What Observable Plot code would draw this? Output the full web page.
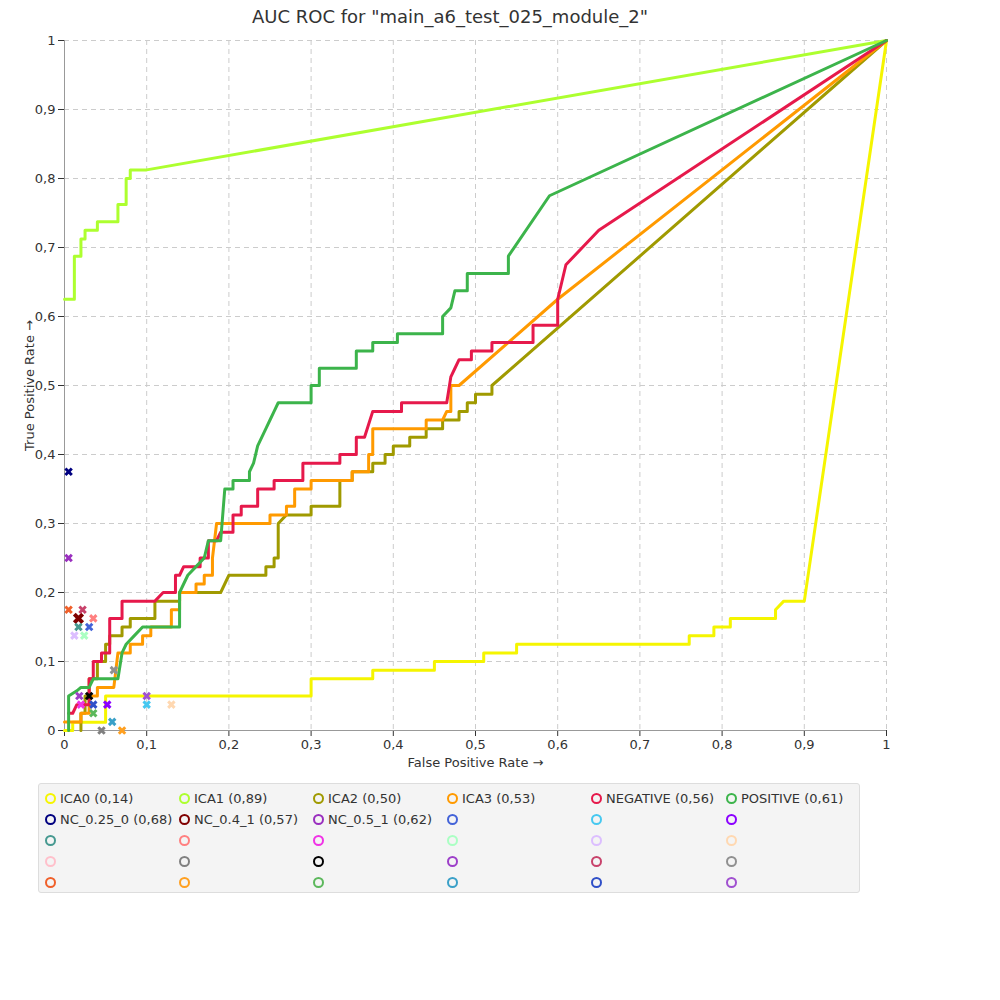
<!DOCTYPE html>
<html><head><meta charset="utf-8">
<script src="https://cdn.jsdelivr.net/npm/d3@7"></script>
<script src="https://cdn.jsdelivr.net/npm/@observablehq/plot@0.6"></script>
<style>
body{margin:0;background:#fff;font-family:"DejaVu Sans",sans-serif;}
#wrap{position:relative;width:1000px;height:1000px;}
#title{position:absolute;top:6px;left:0;width:900px;text-align:center;font-size:18px;color:#333;}
#chart{position:absolute;top:0;left:0;}
#legend{position:absolute;left:38px;top:783px;width:822px;height:110px;background:#f4f4f4;border:1px solid #ddd;border-radius:3px;box-sizing:border-box;padding:4px 0 0 6px;display:grid;grid-template-columns:134px 134px 134px 144px 135px 130px;grid-auto-rows:21px;font-size:13px;color:#333;}
.it{display:flex;align-items:center;white-space:nowrap;}
.dot{width:7px;height:7px;border-radius:50%;border:2px solid;margin-right:4px;}
</style></head>
<body><div id="wrap"><div id="chart"></div><div id="title">AUC ROC for "main_a6_test_025_module_2"</div><div id="legend"></div></div>
<script>
// series curves [fpr, tpr]
const ica0 = [[0,0],[0.01,0],[0.01,0.012],[0.05,0.012],[0.05,0.05],[0.3,0.05],[0.3,0.075],[0.375,0.075],[0.375,0.0875],[0.45,0.0875],[0.45,0.1],[0.51,0.1],[0.51,0.1125],[0.55,0.1125],[0.55,0.125],[0.76,0.125],[0.76,0.1375],[0.79,0.1375],[0.79,0.15],[0.81,0.15],[0.81,0.1625],[0.865,0.1625],[0.865,0.175],[0.875,0.1875],[0.9,0.1875],[1,1]];
const ica1 = [[0,0.625],[0.012,0.625],[0.012,0.6875],[0.02,0.6875],[0.02,0.7125],[0.025,0.7125],[0.025,0.725],[0.04,0.725],[0.04,0.7375],[0.065,0.7375],[0.065,0.7625],[0.075,0.7625],[0.075,0.8],[0.08,0.8],[0.08,0.8125],[0.1,0.8125],[1,1]];
const ica2 = [[0.02,0],[0.02,0.025],[0.025,0.025],[0.025,0.05],[0.03,0.05],[0.03,0.075],[0.04,0.075],[0.04,0.1],[0.05,0.1],[0.05,0.125],[0.055,0.125],[0.055,0.1375],[0.07,0.1375],[0.07,0.15],[0.08,0.15],[0.08,0.1625],[0.11,0.1625],[0.11,0.1875],[0.14,0.1875],[0.14,0.2],[0.19,0.2],[0.2,0.225],[0.245,0.225],[0.245,0.2375],[0.255,0.2375],[0.255,0.25],[0.26,0.25],[0.26,0.3],[0.27,0.3125],[0.3,0.3125],[0.3,0.325],[0.335,0.325],[0.335,0.3625],[0.35,0.3625],[0.35,0.375],[0.375,0.375],[0.375,0.3875],[0.39,0.3875],[0.39,0.4],[0.4,0.4],[0.4,0.4125],[0.42,0.4125],[0.42,0.425],[0.44,0.425],[0.44,0.4375],[0.46,0.4375],[0.46,0.45],[0.48,0.45],[0.48,0.4625],[0.49,0.4625],[0.49,0.475],[0.5,0.475],[0.5,0.4875],[0.52,0.4875],[0.52,0.5],[1,1]];
const ica3 = [[0,0.0125],[0.02,0.0125],[0.02,0.025],[0.03,0.025],[0.03,0.05],[0.04,0.05],[0.04,0.0625],[0.06,0.0625],[0.065,0.1125],[0.08,0.1125],[0.08,0.125],[0.095,0.125],[0.095,0.1375],[0.105,0.1375],[0.105,0.15],[0.13,0.15],[0.13,0.175],[0.14,0.175],[0.14,0.2],[0.16,0.2],[0.16,0.2125],[0.17,0.2125],[0.17,0.225],[0.18,0.225],[0.18,0.25],[0.185,0.3],[0.25,0.3],[0.25,0.3125],[0.27,0.3125],[0.27,0.325],[0.28,0.325],[0.28,0.35],[0.3,0.35],[0.3,0.3625],[0.35,0.3625],[0.35,0.375],[0.37,0.375],[0.37,0.4],[0.375,0.4],[0.375,0.4375],[0.44,0.4375],[0.44,0.45],[0.46,0.45],[0.465,0.4625],[0.47,0.4625],[0.47,0.5],[0.48,0.5],[0.6,0.625],[1,1]];
const negative = [[0.005,0.025],[0.01,0.025],[0.015,0.0375],[0.03,0.0375],[0.03,0.075],[0.035,0.075],[0.035,0.1],[0.045,0.1],[0.045,0.1125],[0.055,0.1125],[0.055,0.1625],[0.07,0.1625],[0.07,0.1875],[0.11,0.1875],[0.12,0.2],[0.135,0.2],[0.135,0.225],[0.14,0.225],[0.145,0.2375],[0.165,0.2375],[0.165,0.25],[0.175,0.25],[0.175,0.275],[0.185,0.275],[0.19,0.2875],[0.205,0.2875],[0.205,0.3125],[0.215,0.3125],[0.215,0.325],[0.235,0.325],[0.235,0.35],[0.255,0.35],[0.255,0.3625],[0.29,0.3625],[0.29,0.3875],[0.335,0.3875],[0.335,0.4],[0.355,0.4],[0.355,0.425],[0.365,0.425],[0.375,0.4625],[0.41,0.4625],[0.41,0.475],[0.465,0.475],[0.47,0.5125],[0.475,0.525],[0.48,0.5375],[0.495,0.5375],[0.495,0.55],[0.52,0.55],[0.52,0.5625],[0.57,0.5625],[0.57,0.5875],[0.6,0.5875],[0.6,0.625],[0.605,0.65],[0.61,0.675],[0.65,0.725],[1,1]];
const positive = [[0.005,0],[0.005,0.05],[0.015,0.0575],[0.02,0.0625],[0.03,0.0625],[0.035,0.075],[0.065,0.075],[0.07,0.1125],[0.075,0.125],[0.085,0.1375],[0.095,0.15],[0.14,0.15],[0.14,0.2],[0.15,0.225],[0.16,0.2375],[0.17,0.25],[0.175,0.275],[0.19,0.275],[0.195,0.35],[0.205,0.35],[0.205,0.3625],[0.225,0.3625],[0.225,0.375],[0.23,0.3875],[0.235,0.4125],[0.245,0.4375],[0.25,0.45],[0.255,0.4625],[0.26,0.475],[0.3,0.475],[0.3,0.5],[0.31,0.5],[0.31,0.525],[0.355,0.525],[0.355,0.55],[0.375,0.55],[0.375,0.5625],[0.405,0.5625],[0.405,0.575],[0.46,0.575],[0.46,0.6],[0.47,0.6125],[0.475,0.6375],[0.49,0.6375],[0.49,0.6625],[0.54,0.6625],[0.54,0.6875],[0.59,0.775],[1,1]];

const seriesNames = ["ICA0","ICA1","ICA2","ICA3","NEGATIVE","POSITIVE"];
const seriesPoints = [ica0, ica1, ica2, ica3, negative, positive];
const seriesColors = ["#f5f500","#adff2f","#a09a00","#ff9a00","#e6194b","#3cb44b"];

// single-point classifiers [fpr, tpr]
const pointX = [0.005,0.017,0.005,0.005,0.022,0.035,0.017,0.03,0.012,0.024,0.06,0.018,0.03,0.1,0.1,0.13,0.02,0.035,0.052,0.035,0.058,0.045,0.07];
const pointY = [0.375,0.1625,0.25,0.175,0.175,0.1625,0.15,0.15,0.1375,0.1375,0.0875,0.05,0.05,0.05,0.0375,0.0375,0.0375,0.0375,0.0375,0.025,0.0125,0,0];
const pointColors = ["#000080","#800000","#9a2fbf","#f0602a","#c8426b","#ff8080","#469990","#4363d8","#dcbeff","#aaffc3","#909090","#9d3fc9","#000000","#a050d0","#46c8f0","#ffd8b1","#f032e6","#3050c8","#8b00ff","#5cb85c","#3aa0c8","#808080","#ffa020"];

const legendLabels = ["ICA0 (0,14)","ICA1 (0,89)","ICA2 (0,50)","ICA3 (0,53)","NEGATIVE (0,56)","POSITIVE (0,61)","NC_0.25_0 (0,68)","NC_0.4_1 (0,57)","NC_0.5_1 (0,62)","","","","","","","","","","","","","","","","","","","","",""];
const legendColors = ["#f5f500","#adff2f","#a09a00","#ff9a00","#e6194b","#3cb44b","#000080","#800000","#9a2fbf","#4363d8","#46c8f0","#8b00ff","#469990","#ff8080","#f032e6","#aaffc3","#dcbeff","#ffd8b1","#ffc0cb","#808080","#000000","#9d3fc9","#c8426b","#909090","#f0602a","#ffa020","#5cb85c","#3aa0c8","#3050c8","#a050d0"];

const ticks = d3.range(0, 11).map(i => i / 10);
const fmt = d => d === 0 ? "0" : d === 1 ? "1" : String(d).replace(".", ",");

const lines = seriesPoints.map((pts, i) => Plot.line(pts, {
  x: d => d[0], y: d => d[1], stroke: seriesColors[i], strokeWidth: 3
}));
const pts = pointX.map((x, i) => ({x, y: pointY[i], c: pointColors[i], big: i === 1}));

const chart = Plot.plot({
  width: 1000, height: 775,
  marginTop: 40, marginLeft: 64, marginRight: 114, marginBottom: 45,
  style: {fontSize: "11px", fontFamily: "DejaVu Sans, sans-serif", color: "#333"},
  x: {domain: [0, 1], ticks, tickFormat: fmt, label: "False Positive Rate", labelAnchor: "center", labelArrow: "none"},
  y: {domain: [0, 1], ticks, tickFormat: fmt, label: "True Positive Rate", labelAnchor: "center", labelArrow: "none"},
  marks: [
    Plot.gridX(ticks, {stroke: "#ccc", strokeOpacity: 1, strokeDasharray: "5,4"}),
    Plot.gridY(ticks, {stroke: "#ccc", strokeOpacity: 1, strokeDasharray: "5,4"}),
    Plot.axisX({ticks, tickFormat: fmt, label: "False Positive Rate", labelAnchor: "center", labelOffset: 36, fontSize: 13}),
    Plot.axisY({ticks, tickFormat: fmt, label: "True Positive Rate", labelAnchor: "center", labelOffset: 40, fontSize: 13}),
    Plot.ruleY([0], {stroke: "#999"}),
    Plot.ruleX([0], {stroke: "#999"}),
    ...lines,
    Plot.dot(pts, {x: "x", y: "y", stroke: "c", symbol: "times", r: d => d.big ? 5 : 3, strokeWidth: d => d.big ? 4 : 3})
  ]
});
document.getElementById("chart").append(chart);

const lg = d3.select("#legend");
legendLabels.forEach((t, i) => {
  const it = lg.append("div").attr("class", "it");
  it.append("div").attr("class", "dot").style("border-color", legendColors[i]);
  it.append("span").text(t);
});
</script></body></html>
